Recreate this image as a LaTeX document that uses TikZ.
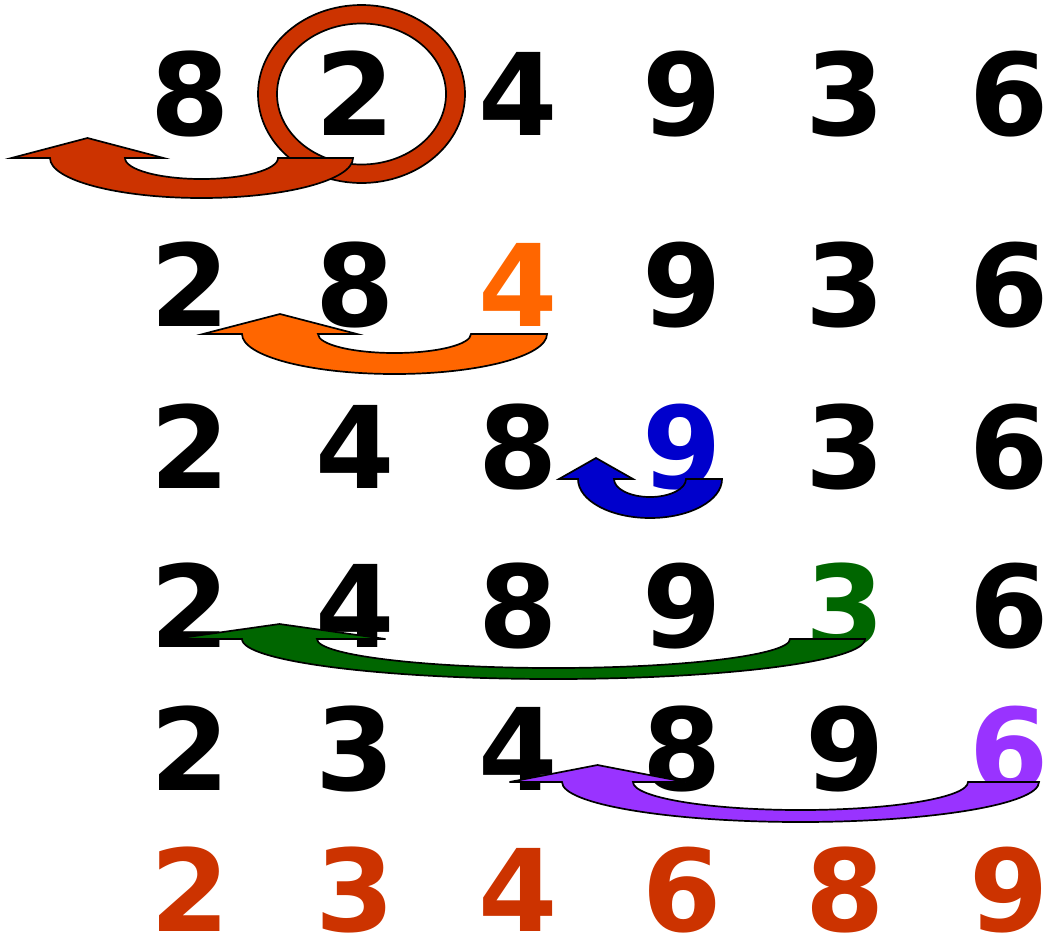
\documentclass[tikz,border=0pt]{standalone}
\usepackage{fontspec}
\setmainfont{DejaVu Sans}
\usepackage{tikz}
\definecolor{Rust}{HTML}{CC3300}
\definecolor{Tangerine}{HTML}{FF6600}
\definecolor{DeepBlue}{HTML}{0000CC}
\definecolor{LeafGreen}{HTML}{006600}
\definecolor{Lilac}{HTML}{9933FF}
% U-turn block arrow: colour, left x, right x, top y, shaft width, outer ry, inner ry, head height, head half width
\newcommand{\uturn}[9]{%
  \filldraw[band, fill=#1] (#3,#4)
    arc[start angle=0, end angle=180, x radius={(#3-#2)/2}, y radius=#6]
    -- ({#2+#5/2-#9},#4) -- ({#2+#5/2},{#4-#8}) -- ({#2+#5/2+#9},#4)
    -- ({#2+#5},#4)
    arc[start angle=180, end angle=0, x radius={(#3-#2)/2-#5}, y radius=#7]
    -- cycle;}

\begin{document}
\begin{tikzpicture}[x=1pt, y=-1pt,
  digit/.style={font=\fontsize{114}{120}\selectfont\bfseries, anchor=base, inner sep=0pt, text height=83pt, text depth=0pt},
  band/.style={draw=black, line width=1.7pt, line join=miter}]
\useasboundingbox (0,0) rectangle (1048,938);
% row 1
\node[digit] (a1) at (190,135) {8};
\node[digit] (a2) at (355,135) {2};
\node[digit] (a3) at (518,135) {4};
\node[digit] (a4) at (682,135) {9};
\node[digit] (a5) at (845,135) {3};
\node[digit] (a6) at (1009,135) {6};
% row 2
\node[digit] (b1) at (190,326) {2};
\node[digit] (b2) at (355,326) {8};
\node[digit, Tangerine] (b3) at (518,326) {4};
\node[digit] (b4) at (682,326) {9};
\node[digit] (b5) at (845,326) {3};
\node[digit] (b6) at (1009,326) {6};
% row 3
\node[digit] (c1) at (190,488) {2};
\node[digit] (c2) at (355,488) {4};
\node[digit] (c3) at (518,488) {8};
\node[digit, DeepBlue] (c4) at (682,488) {9};
\node[digit] (c5) at (845,488) {3};
\node[digit] (c6) at (1009,488) {6};
% row 4
\node[digit] (d1) at (190,647) {2};
\node[digit] (d2) at (355,647) {4};
\node[digit] (d3) at (518,647) {8};
\node[digit] (d4) at (682,647) {9};
\node[digit, LeafGreen] (d5) at (845,647) {3};
\node[digit] (d6) at (1009,647) {6};
% row 5
\node[digit] (e1) at (190,790) {2};
\node[digit] (e2) at (355,790) {3};
\node[digit] (e3) at (518,790) {4};
\node[digit] (e4) at (682,790) {8};
\node[digit] (e5) at (845,790) {9};
\node[digit, Lilac] (e6) at (1009,790) {6};
% sorted row
\node[digit, Rust] (f1) at (190,931) {2};
\node[digit, Rust] (f2) at (355,931) {3};
\node[digit, Rust] (f3) at (518,931) {4};
\node[digit, Rust] (f4) at (682,931) {6};
\node[digit, Rust] (f5) at (845,931) {8};
\node[digit, Rust] (f6) at (1009,931) {9};
% ring round the first key
\filldraw[band, fill=Rust, even odd rule] (361.5,94) ellipse[x radius=103.5, y radius=89]
  (361.5,94) ellipse[x radius=84.5, y radius=70.5];
% moves
\uturn{Rust}{50}{353}{158}{75}{40}{21}{20}{76}
\uturn{Tangerine}{242}{547}{334}{76}{40}{19}{20}{77}
\uturn{DeepBlue}{578}{722}{479}{36}{39}{18}{21}{37}
\uturn{LeafGreen}{242}{865}{639}{75}{40}{29}{15}{106}
\uturn{Lilac}{562}{1039}{782}{71}{40}{28}{17}{88}
\end{tikzpicture}
\end{document}
